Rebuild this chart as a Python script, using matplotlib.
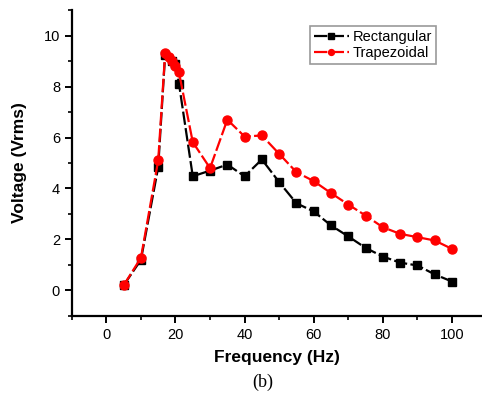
import matplotlib
matplotlib.use("Agg")
import matplotlib.pyplot as plt
from matplotlib.ticker import MultipleLocator

freq_rect = [5, 10, 15, 17, 19, 20, 21, 25, 30, 35, 40, 45, 50, 55, 60, 65, 70, 75, 80, 85, 90, 95, 100]
volt_rect = [0.2, 1.2, 4.84, 9.25, 9.0, 8.9, 8.12, 4.48, 4.7, 4.94, 4.48, 5.14, 4.25, 3.42, 3.1, 2.55, 2.12, 1.67, 1.33, 1.09, 0.98, 0.63, 0.35]
freq_trap = [5, 10, 15, 17, 18, 19, 20, 21, 25, 30, 35, 40, 45, 50, 55, 60, 65, 70, 75, 80, 85, 90, 95, 100]
volt_trap = [0.2, 1.28, 5.1, 9.31, 9.15, 9.02, 8.82, 8.56, 5.82, 4.8, 6.7, 6.04, 6.08, 5.36, 4.64, 4.29, 3.82, 3.37, 2.94, 2.48, 2.22, 2.09, 1.96, 1.63]

fig = plt.figure(figsize=(4.82, 4.05), dpi=100)
ax = fig.add_axes([0.149, 0.22, 0.851, 0.755])

ax.plot(freq_rect, volt_rect, color='black', marker='s', markersize=6,
        linestyle=(0, (6, 1.5)), linewidth=1.6, label='Rectangular')
ax.plot(freq_trap, volt_trap, color='red', marker='o', markersize=6.5,
        linestyle=(0, (6, 1.5)), linewidth=1.6, label='Trapezoidal')

ax.set_xlim(-10, 108.7)
ax.set_ylim(-1, 11)
ax.xaxis.set_major_locator(MultipleLocator(20))
ax.xaxis.set_minor_locator(MultipleLocator(10))
ax.yaxis.set_major_locator(MultipleLocator(2))
ax.yaxis.set_minor_locator(MultipleLocator(1))
for s in ['top', 'right']:
    ax.spines[s].set_visible(False)
for s in ['left', 'bottom']:
    ax.spines[s].set_linewidth(1.6)
ax.tick_params(which='major', direction='out', length=5, width=1.4, labelsize=10.5)
ax.tick_params(which='minor', direction='out', length=3, width=1.2)
for lab in ax.get_xticklabels() + ax.get_yticklabels():
    lab.set_family('Liberation Sans')

ax.set_xlabel('Frequency (Hz)', fontsize=12.5, fontweight='bold', family='Liberation Sans', labelpad=6)
ax.set_ylabel('Voltage (Vrms)', fontsize=12.5, fontweight='bold', family='Liberation Sans', labelpad=12)

leg = ax.legend(loc='upper right', bbox_to_anchor=(0.888, 0.948),
                prop={'family': 'Liberation Sans', 'size': 10.5},
                frameon=True, fancybox=False, edgecolor='gray', markerscale=0.65,
                handlelength=2.4, borderpad=0.25, labelspacing=0.15, handletextpad=0.3,
                borderaxespad=0)
leg.get_frame().set_linewidth(1.2)

fig.text(0.545, 0.055, '(b)', fontsize=13, family='Liberation Serif', ha='center', va='center')

fig.savefig('out.png', dpi=100)
